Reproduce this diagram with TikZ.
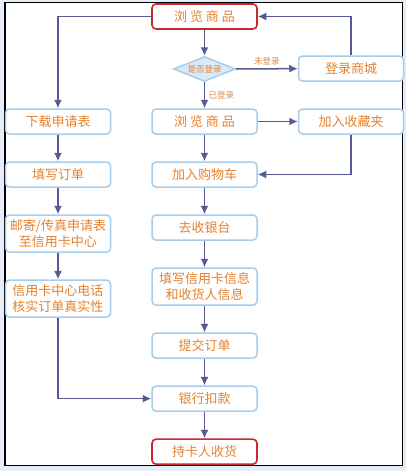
\documentclass[tikz,border=0pt]{standalone}
\usepackage{fontspec}
\setmainfont{Noto Sans CJK SC}
\usepackage{xcolor}
\usetikzlibrary{arrows.meta,positioning,shapes.geometric}

\definecolor{boxline}{HTML}{A6CDEB}
\definecolor{redline}{HTML}{C8282E}
\definecolor{txtorange}{HTML}{E5822E}
\definecolor{lbltan}{HTML}{D98C4A}
\definecolor{arrowblue}{HTML}{565A92}
\definecolor{diafill}{HTML}{DCE9F7}
\definecolor{pagebg}{HTML}{E7EDF8}

\begin{document}
\begin{tikzpicture}[
  node distance=26.5pt and 40pt,
  box/.style={draw=boxline, line width=1.5pt, rounded corners=4pt, fill=white, align=center,
    text=txtorange, font=\fontsize{13}{16}\selectfont, minimum width=105pt, minimum height=25pt,
    inner xsep=2pt, inner ysep=4.5pt},
  endbox/.style={box, draw=redline, line width=1.6pt},
  check/.style={diamond, draw=boxline, line width=1.5pt, fill=diafill, text=txtorange,
    font=\fontsize{8.5}{10}\selectfont, minimum width=62pt, minimum height=25pt, inner sep=0pt, aspect=2.4},
  lbl/.style={text=lbltan, font=\fontsize{8.5}{10}\selectfont},
  arr/.style={draw=arrowblue, line width=1.5pt, -{Latex[length=8.5pt,width=8pt]}}
]
\useasboundingbox (0,0) rectangle (406pt,-471pt);
\fill[pagebg] (0,0) rectangle (406pt,-471pt);
\draw[fill=white, line width=1.6pt] (5pt,-2.5pt) rectangle (402.5pt,-465.5pt);

\node[endbox] (browse) at (204.5pt,-16.5pt) {浏 览 商 品};
\node[check] (logged) at (204.5pt,-69pt) {是否登录};
\node[box] (browse2) at (204.5pt,-121.5pt) {浏 览 商 品};
\node[box, right=of browse2] (fav) {加入收藏夹};
\node[box, above=of fav] (login) {登录商城};
\node[box, left=of browse2] (download) {下载申请表};
\node[box, below=of download] (fillorder) {填写订单};
\node[box, below=of fillorder] (mail) {邮寄/传真申请表\\至信用卡中心};
\node[box, below=of mail] (verify) {信用卡中心电话\\核实订单真实性};
\node[box, below=of browse2] (cart) {加入购物车};
\node[box, below=of cart] (cashier) {去收银台};
\node[box, below=of cashier] (cardinfo) {填写信用卡信息\\和收货人信息};
\node[box, below=of cardinfo] (submit) {提交订单};
\node[box, below=of submit] (debit) {银行扣款};
\node[endbox, below=of debit] (receive) {持卡人收货};

\draw[arr] (browse) -| (download);
\draw[arr] (browse) -- (logged);
\draw[arr] (logged) -- node[lbl, above] {未登录} (login);
\draw[arr] (login) |- (browse);
\draw[arr] (logged) -- node[lbl, right] {已登录} (browse2);
\draw[arr] (browse2) -- (fav);
\draw[arr] (fav) |- (cart);
\draw[arr] (browse2) -- (cart);
\draw[arr] (download) -- (fillorder);
\draw[arr] (fillorder) -- (mail);
\draw[arr] (mail) -- (verify);
\draw[arr] (verify) |- (debit);
\draw[arr] (cart) -- (cashier);
\draw[arr] (cashier) -- (cardinfo);
\draw[arr] (cardinfo) -- (submit);
\draw[arr] (submit) -- (debit);
\draw[arr] (debit) -- (receive);
\end{tikzpicture}
\end{document}
